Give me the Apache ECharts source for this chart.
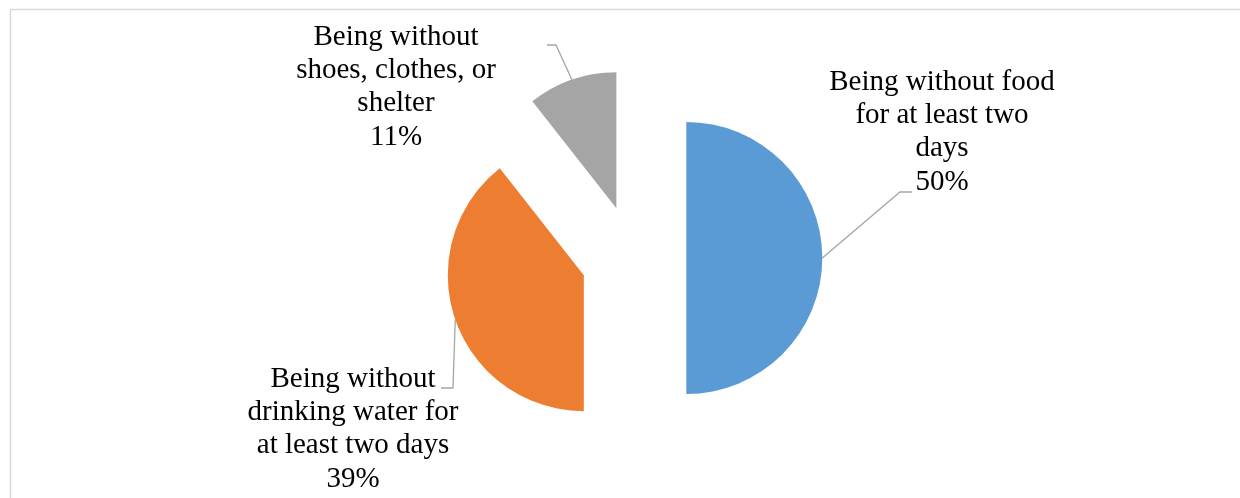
<!DOCTYPE html>
<html><head><meta charset="utf-8">
<script src="https://cdn.jsdelivr.net/npm/echarts@6/dist/echarts.min.js"></script>
<style>html,body{margin:0;padding:0;background:#fff}#c{width:1240px;height:498px}</style>
</head><body><div id="c"></div>
<script>
// ---- data ----
const categories = [
  'Being without food\nfor at least two\ndays',
  'Being without\ndrinking water for\nat least two days',
  'Being without\nshoes, clothes, or\nshelter'
];
const values = [50, 39.4, 10.6];
const colors = ['#5B9BD5', '#ED7D31', '#A5A5A5'];

// ---- layout ----
const pieCenter = [633.6, 258];
const radius = 136;
const explode = 52.7;
const labelPlacement = [
  { x: 942, y: 132, bend: [900, 192], end: [912, 192] },
  { x: 353, y: 429, bend: [453, 388], end: [441, 388] },
  { x: 396, y: 87,  bend: [556, 45],  end: [547, 45] }
];

const total = values.reduce((a, b) => a + b, 0);
let acc = 0;
const series = values.map((v, i) => {
  const mid = (acc + v / 2) / total * 2 * Math.PI;
  acc += v;
  const c = [pieCenter[0] + explode * Math.sin(mid), pieCenter[1] - explode * Math.cos(mid)];
  const start = [c[0] + radius * Math.sin(mid), c[1] - radius * Math.cos(mid)];
  return {
    type: 'pie',
    center: c,
    radius: radius,
    startAngle: 90,
    clockwise: true,
    silent: true,
    animation: false,
    avoidLabelOverlap: false,
    itemStyle: { borderWidth: 0 },
    data: values.map((w, j) => ({
      name: categories[j],
      value: w,
      itemStyle: { color: j === i ? colors[j] : 'rgba(0,0,0,0)', borderWidth: 0 },
      label: { show: j === i },
      labelLine: { show: j === i }
    })),
    label: {
      position: 'outside',
      formatter: p => p.name + '\n' + Math.round(p.percent) + '%',
      color: '#000',
      fontFamily: 'Liberation Serif',
      fontSize: 29,
      lineHeight: 33.3,
      align: 'center'
    },
    labelLine: { show: true, smooth: false, lineStyle: { color: '#A6A6A6', width: 1.3 } },
    labelLayout: p => {
      if (p.dataIndex !== i) return {};
      const L = labelPlacement[i];
      return {
        x: L.x, y: L.y, align: 'center', verticalAlign: 'middle',
        labelLinePoints: [start, L.bend, L.end]
      };
    }
  };
});

const chart = echarts.init(document.getElementById('c'), null, { renderer: 'canvas' });
chart.setOption({
  backgroundColor: '#fff',
  animation: false,
  graphic: [{
    type: 'rect', silent: true, z: -1,
    shape: { x: 10.5, y: 9.5, width: 1300, height: 600 },
    style: { fill: 'none', stroke: '#D9D9D9', lineWidth: 1.5 }
  }],
  series: series
});
</script></body></html>
